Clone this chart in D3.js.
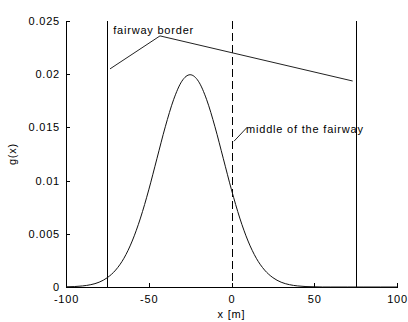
<!DOCTYPE html>
<html>
<head>
<meta charset="utf-8">
<script src="https://cdn.jsdelivr.net/npm/d3@7"></script>
<style>
  body { margin: 0; background: #fff; }
  text { font-family: Arial, "Liberation Sans", sans-serif; font-size: 11px; fill: #000; letter-spacing: 0.8px; }
</style>
</head>
<body>
<script>
// curve g(x), every 5 m
var xs = [-100, -95, -90, -85, -80, -75, -70, -65, -60, -55, -50, -45, -40, -35, -30, -25,
          -20, -15, -10, -5, 0, 5, 10, 15, 20, 25, 30, 35, 40, 45, 50, 55, 60, 70, 80, 90, 100];
var gx = [0.00002, 0.00004, 0.0001, 0.00022, 0.00045, 0.00088, 0.00159, 0.0027, 0.00432, 0.00648,
          0.00913, 0.0121, 0.01506, 0.0176, 0.01934, 0.01995, 0.01934, 0.0176, 0.01506, 0.0121,
          0.00913, 0.00648, 0.00432, 0.0027, 0.00159, 0.00088, 0.00045, 0.00022, 0.0001, 0.00004,
          0.00002, 0, 0, 0, 0, 0, 0];

var xTicks = [-100, -50, 0, 50, 100];
var xTickLabels = ["-100", "-50", "0", "50", "100"];
var yTicks = [0, 0.005, 0.01, 0.015, 0.02, 0.025];
var yTickLabels = ["0", "0.005", "0.01", "0.015", "0.02", "0.025"];

var borders = [-75, 75];
var middle = 0;

// annotation arrows [x, y] in data units
var borderArrowA = [[-73.4, 0.0205], [-43.2, 0.0236]];
var borderArrowB = [[-43.2, 0.0236], [73.2, 0.01936]];
var middleArrow = [[1.5, 0.0137], [9.4, 0.0150]];
var borderLabel = { x: -71.5, y: 0.02375, text: "fairway border" };
var middleLabel = { x: 8.8, y: 0.01448, text: "middle of the fairway" };

var margin = {top: 21, right: 11, bottom: 35, left: 66};
var width = 408 - margin.left - margin.right;
var height = 322 - margin.top - margin.bottom;

var svg = d3.select("body").append("svg")
    .attr("width", 408)
    .attr("height", 322)
  .append("g")
    .attr("transform", "translate(" + margin.left + "," + margin.top + ")");

var x = d3.scaleLinear().domain([-100, 100]).range([0, width]);
var y = d3.scaleLinear().domain([0, 0.025]).range([height, 0]);

// axes with inward ticks (no box)
var xAxis = d3.axisBottom(x).tickValues(xTicks).tickSizeInner(-4).tickSizeOuter(0).tickPadding(8)
    .tickFormat(function(d, i) { return xTickLabels[i]; });
var yAxis = d3.axisLeft(y).tickValues(yTicks).tickSizeInner(-4).tickSizeOuter(0).tickPadding(6)
    .tickFormat(function(d, i) { return yTickLabels[i]; });

var gx_ = svg.append("g")
    .attr("transform", "translate(0," + height + ")")
    .call(xAxis);
var gy_ = svg.append("g").call(yAxis);

[gx_, gy_].forEach(function(g) {
  g.selectAll("path, line").attr("stroke", "#000").attr("shape-rendering", "crispEdges");
  g.selectAll("text").style("font-size", "11px").attr("fill", "#000")
    .style("font-family", "Arial, 'Liberation Sans', sans-serif");
});

// vertical lines
svg.selectAll(".border")
    .data(borders)
  .enter().append("line")
    .attr("x1", function(d) { return Math.round(x(d)) + 0.5; })
    .attr("x2", function(d) { return Math.round(x(d)) + 0.5; })
    .attr("y1", y(0))
    .attr("y2", y(0.025))
    .attr("stroke", "#000");

svg.append("line")
    .attr("x1", Math.round(x(middle)) + 0.5)
    .attr("x2", Math.round(x(middle)) + 0.5)
    .attr("y1", y(0.025))
    .attr("y2", y(0))
    .attr("stroke", "#000")
    .attr("stroke-dasharray", "8,4");

// the curve
var line = d3.line()
    .x(function(d, i) { return x(xs[i]); })
    .y(function(d) { return y(d); })
    .curve(d3.curveMonotoneX);

svg.append("path")
    .datum(gx)
    .attr("d", line)
    .attr("fill", "none")
    .attr("stroke", "#111")
    .attr("stroke-width", 1);

// annotations
var aline = d3.line()
    .x(function(d) { return x(d[0]); })
    .y(function(d) { return y(d[1]); });

[borderArrowA, borderArrowB, middleArrow].forEach(function(a) {
  svg.append("path")
      .attr("d", aline(a))
      .attr("fill", "none")
      .attr("stroke", "#222");
});

[borderLabel, middleLabel].forEach(function(l) {
  svg.append("text")
      .attr("x", x(l.x))
      .attr("y", y(l.y))
      .text(l.text);
});

// axis labels
svg.append("text")
    .attr("x", width / 2)
    .attr("y", height + 31)
    .attr("text-anchor", "middle")
    .text("x [m]");

svg.append("text")
    .attr("transform", "translate(" + (-50) + "," + (height / 2) + ") rotate(-90)")
    .attr("text-anchor", "middle")
    .text("g(x)");
</script>
</body>
</html>
